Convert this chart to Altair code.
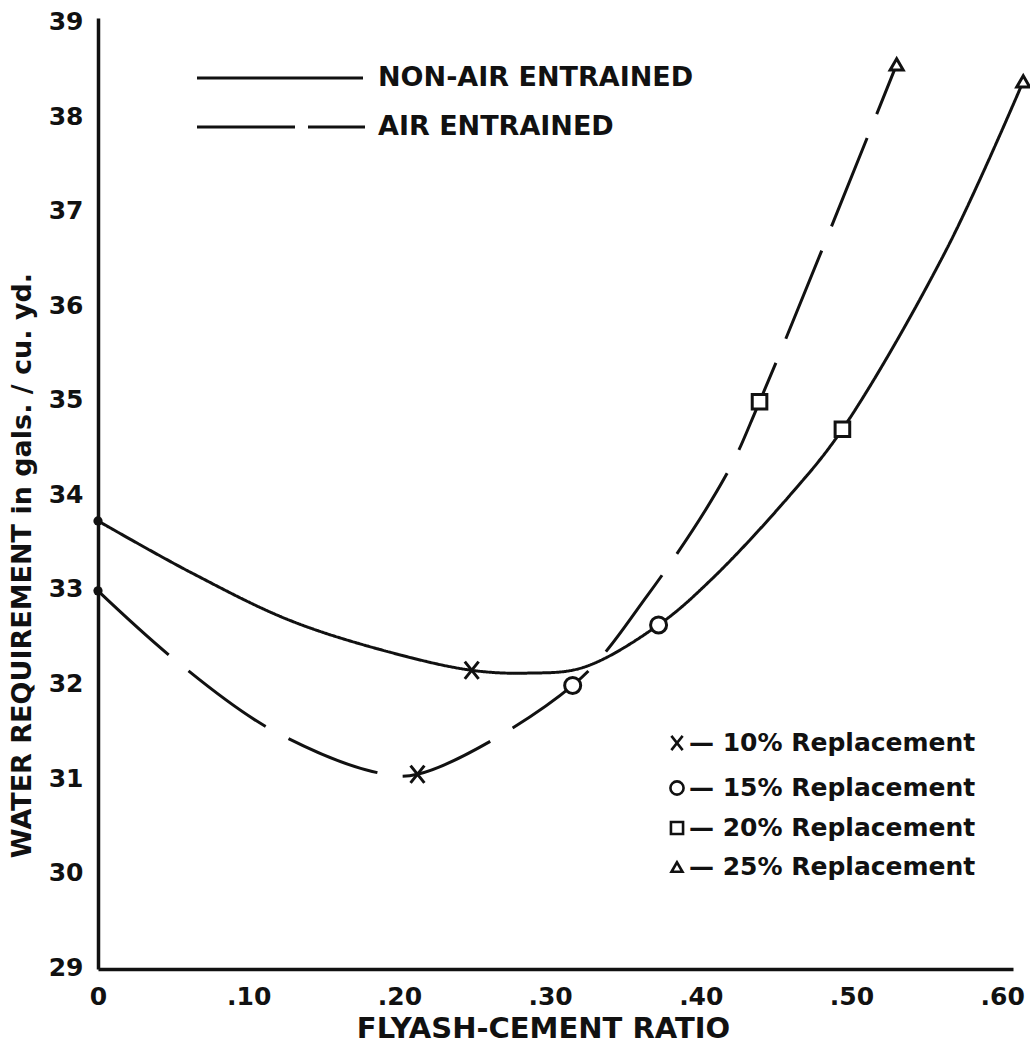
import altair as alt
import pandas as pd

# ---------------- data ----------------
replacement = ["0%", "10%", "15%", "20%", "25%"]

# marked points (fly-ash ratio, water requirement gals / cu. yd)
non_air_x = [0.0, 0.248, 0.372, 0.494, 0.614]
non_air_y = [33.72, 32.14, 32.62, 34.69, 38.37]
air_x = [0.0, 0.212, 0.315, 0.439, 0.530]
air_y = [32.98, 31.04, 31.98, 34.98, 38.55]

# extra points read along the hand-drawn curves between the markers
non_air_curve_x = [0.061, 0.127, 0.194, 0.285, 0.322, 0.407, 0.458, 0.563]
non_air_curve_y = [33.18, 32.67, 32.33, 32.11, 32.17, 33.10, 33.97, 36.59]
air_curve_x = [0.051, 0.113, 0.182, 0.365, 0.417]
air_curve_y = [32.25, 31.53, 31.07, 32.94, 34.21]

series_names = ["NON-AIR ENTRAINED", "AIR ENTRAINED"]
x_ticks = [0.0, 0.1, 0.2, 0.3, 0.4, 0.5, 0.6]
y_ticks = [29, 30, 31, 32, 33, 34, 35, 36, 37, 38, 39]
legend_labels = ["— 10% Replacement", "— 15% Replacement",
                 "— 20% Replacement", "— 25% Replacement"]

# ---------------- tables ----------------
markers = pd.DataFrame(
    {"x": non_air_x + air_x,
     "y": non_air_y + air_y,
     "rep": replacement + replacement,
     "series": [series_names[0]] * 5 + [series_names[1]] * 5})

curve = pd.concat([
    pd.DataFrame({"x": non_air_x + non_air_curve_x,
                  "y": non_air_y + non_air_curve_y,
                  "series": series_names[0]}),
    pd.DataFrame({"x": air_x + air_curve_x,
                  "y": air_y + air_curve_y,
                  "series": series_names[1]}),
]).sort_values(["series", "x"])

FONT = "DejaVu Sans"
INK = "#111111"
XPATH = "M-0.8,-1L0.8,1M-0.8,1L0.8,-1"
SHAPES = [XPATH, "circle", "square", "triangle-up"]

xscale = alt.Scale(domain=[0, 0.6072], nice=False, zero=False)
yscale = alt.Scale(domain=[28.98, 39.04], nice=False, zero=False)

xaxis = alt.Axis(values=x_ticks, grid=False, ticks=False, tickSize=0, labelFlush=False,
                 labelExpr="datum.value == 0 ? '0' : replace(format(datum.value, '.2f'), '0.', '.')",
                 labelFont=FONT, labelFontSize=25, labelFontWeight="bold", labelColor=INK,
                 labelPadding=15, domainColor=INK, domainWidth=3.5,
                 title="FLYASH-CEMENT  RATIO", titleFont=FONT, titleFontSize=29,
                 titleFontWeight="bold", titleColor=INK, titleX=445, titleY=59,
                 titleAlign="center", titleBaseline="middle")
yaxis = alt.Axis(values=y_ticks, grid=False, ticks=False, tickSize=0, format="d", labelFlush=False,
                 labelFont=FONT, labelFontSize=25, labelFontWeight="bold", labelColor=INK,
                 labelPadding=15, domainColor=INK, domainWidth=3.5,
                 title="WATER REQUIREMENT in gals. / cu. yd.", titleFont=FONT,
                 titleFontSize=27, titleFontWeight="bold", titleColor=INK,
                 titleAngle=270, titleX=-76, titleY=547,
                 titleAlign="center", titleBaseline="middle")

lines = alt.Chart(curve).mark_line(interpolate="catmull-rom", strokeWidth=3, color=INK).encode(
    x=alt.X("x:Q", scale=xscale, axis=xaxis),
    y=alt.Y("y:Q", scale=yscale, axis=yaxis),
    detail="series:N",
    strokeDash=alt.StrokeDash("series:N",
                              scale=alt.Scale(domain=series_names, range=[[1, 0], [95, 26]]),
                              legend=None),
)

open_markers = alt.Chart(markers).transform_filter(alt.datum.rep != "0%").mark_point(
    filled=False, color=INK, strokeWidth=3, opacity=1, fill="white").encode(
    x=alt.X("x:Q", scale=xscale),
    y=alt.Y("y:Q", scale=yscale),
    shape=alt.Shape("rep:N", scale=alt.Scale(domain=replacement[1:], range=SHAPES), legend=None),
    size=alt.Size("rep:N", scale=alt.Scale(domain=replacement[1:], range=[300, 170, 210, 340]),
                  legend=None),
)

start_dots = alt.Chart(markers).transform_filter(alt.datum.rep == "0%").mark_circle(
    color=INK, size=85, opacity=1).encode(
    x=alt.X("x:Q", scale=xscale),
    y=alt.Y("y:Q", scale=yscale),
)

# ---- line-style key (top left) ----
key_df = pd.DataFrame({"label": series_names})
key_layers = []
for name, ky in zip(series_names, [60, 109]):
    key_layers.append(
        alt.Chart(key_df).transform_filter(alt.datum.label == name).mark_text(
            align="left", baseline="middle", font=FONT, fontSize=27, fontWeight="bold", color=INK
        ).encode(x=alt.value(280), y=alt.value(ky), text="label:N"))
key_layers.append(alt.Chart(key_df).transform_filter(alt.datum.label == series_names[0]).mark_rule(
    strokeWidth=3, color=INK).encode(x=alt.value(99), x2=alt.value(265), y=alt.value(60)))
key_layers.append(alt.Chart(key_df).transform_filter(alt.datum.label == series_names[1]).mark_rule(
    strokeWidth=3, color=INK).encode(x=alt.value(99), x2=alt.value(197), y=alt.value(109)))
key_layers.append(alt.Chart(key_df).transform_filter(alt.datum.label == series_names[1]).mark_rule(
    strokeWidth=3, color=INK).encode(x=alt.value(210), x2=alt.value(267), y=alt.value(109)))

# ---- marker key (bottom right) ----
leg_df = pd.DataFrame({"rep": replacement[1:], "label": legend_labels})
leg_layers = []
for rep, ly in zip(replacement[1:], [725, 770, 810, 849]):
    base = alt.Chart(leg_df).transform_filter(alt.datum.rep == rep)
    leg_layers.append(base.mark_point(filled=False, color=INK, strokeWidth=2.6, opacity=1).encode(
        x=alt.value(579), y=alt.value(ly),
        shape=alt.Shape("rep:N", scale=alt.Scale(domain=replacement[1:], range=SHAPES), legend=None),
        size=alt.Size("rep:N", scale=alt.Scale(domain=replacement[1:], range=[200, 120, 150, 230]),
                      legend=None),
    ))
    leg_layers.append(base.mark_text(
        align="left", baseline="middle", font=FONT, fontSize=25, fontWeight="bold", color=INK
    ).encode(x=alt.value(591), y=alt.value(ly), text="label:N"))

chart = alt.layer(
    lines, start_dots, open_markers, *key_layers, *leg_layers,
).resolve_scale(size="independent").properties(
    width=915, height=951,
    autosize=alt.AutoSizeParams(type="none"),
    padding={"left": 98, "top": 18, "right": 17, "bottom": 78},
    background="white",
).configure_view(stroke=None)

chart.save("out.html", embed_options={"renderer": "svg", "actions": False})
